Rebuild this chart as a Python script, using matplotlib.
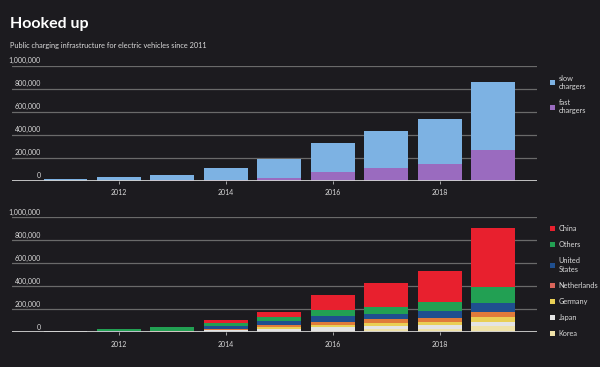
import matplotlib
matplotlib.use("Agg")
import matplotlib.pyplot as plt
import matplotlib.transforms as mtransforms
import numpy as np

plt.rcParams["font.family"] = ["Lato", "DejaVu Sans"]

years = [2011, 2012, 2013, 2014, 2015, 2016, 2017, 2018, 2019]

# top panel: chargers by speed
fast_chargers = [500, 1000, 2000, 8000, 20000, 78000, 113000, 143000, 267000]
slow_chargers = [14500, 31000, 48000, 102000, 166000, 253000, 319000, 391000, 592000]

# bottom panel: chargers by country (stacked bottom -> top)
korea = [0, 0, 0, 0, 5000, 14000, 25000, 30000, 54000]
japan = [8000, 4000, 5000, 18000, 25000, 30000, 30000, 30000, 35000]
germany = [0, 1000, 1000, 5000, 16000, 22000, 25000, 30000, 45000]
netherlands = [1000, 2000, 3000, 10000, 18000, 28000, 33000, 35000, 45000]
united_states = [2000, 3000, 5000, 20000, 31000, 45000, 50000, 60000, 73000]
others = [4000, 22000, 35000, 25000, 40000, 55000, 60000, 75000, 145000]
china = [0, 0, 0, 30000, 45000, 133000, 208000, 273000, 510000]

y_ticks = [0, 200000, 400000, 600000, 800000, 1000000]

BG = "#1c1b1f"
GRID = "#6a6a6a"
TXT = "#d9d9d9"

fig = plt.figure(figsize=(6.0, 3.67), dpi=100, facecolor=BG)

fig.text(0.017, 0.953, "Hooked up", color="white", fontsize=11.5,
         fontweight="bold", va="top", ha="left")
fig.text(0.017, 0.885, "Public charging infrastructure for electric vehicles since 2011",
         color=TXT, fontsize=5.3, va="top", ha="left")


def style_axis(ax):
    ax.set_facecolor(BG)
    ax.set_xlim(2010.0, 2019.82)
    ax.set_ylim(0, 1000000)
    for s in ax.spines.values():
        s.set_visible(False)
    ax.set_yticks([])
    for v in y_ticks[1:]:
        ax.axhline(v, color=GRID, lw=0.9, zorder=0)
    ax.axhline(0, color="#cfcfcf", lw=1.3, zorder=3)
    ax.set_xticks([2012, 2014, 2016, 2018])
    ax.set_xticklabels(["2012", "2014", "2016", "2018"])
    ax.tick_params(axis="x", colors="#bbbbbb", labelcolor=TXT, labelsize=5,
                   length=2, width=0.6, pad=4, direction="out")
    trans = mtransforms.blended_transform_factory(ax.transAxes, ax.transData)
    for v in y_ticks:
        ax.text(0.055, v + 12000, f"{v:,}", transform=trans, ha="right",
                va="bottom", color=TXT, fontsize=5)


w = 0.82

ax1 = fig.add_axes([0.02, 0.5076, 0.875, 0.3134])
style_axis(ax1)
b_fast = ax1.bar(years, fast_chargers, width=w, color="#9a6bbf", zorder=2)
b_slow = ax1.bar(years, slow_chargers, width=w, bottom=fast_chargers,
                 color="#7db2e3", zorder=2)
leg1 = ax1.legend([b_slow, b_fast], ["slow\nchargers", "fast\nchargers"],
                  loc="upper left", bbox_to_anchor=(0.905, 0.815),
                  bbox_transform=fig.transFigure, frameon=False, fontsize=5.3,
                  handlelength=0.7, handleheight=0.7, handletextpad=0.5,
                  labelspacing=1.3, labelcolor=TXT)

ax2 = fig.add_axes([0.02, 0.0945, 0.875, 0.3134])
style_axis(ax2)
series = [
    ("Korea", korea, "#efe2a8"),
    ("Japan", japan, "#e4e4e4"),
    ("Germany", germany, "#e9cf55"),
    ("Netherlands", netherlands, "#e07b3a"),
    ("United\nStates", united_states, "#1f4f8f"),
    ("Others", others, "#22a053"),
    ("China", china, "#e8202e"),
]
bottom = np.zeros(len(years))
handles = []
for name, vals, col in series:
    h = ax2.bar(years, vals, width=w, bottom=bottom, color=col, zorder=2)
    bottom = bottom + np.array(vals)
    handles.append((name, h))
handles = handles[::-1]
leg_colors = {"Netherlands": "#d9655a"}
leg2 = ax2.legend([h for _, h in handles], [n for n, _ in handles],
                  loc="upper left", bbox_to_anchor=(0.905, 0.405),
                  bbox_transform=fig.transFigure, frameon=False, fontsize=5.3,
                  handlelength=0.7, handleheight=0.7, handletextpad=0.5,
                  labelspacing=1.25, labelcolor=TXT)
for patch, (name, _) in zip(leg2.get_patches(), handles):
    if name in leg_colors:
        patch.set_facecolor(leg_colors[name])

fig.savefig("out.png", dpi=100, facecolor=BG)
